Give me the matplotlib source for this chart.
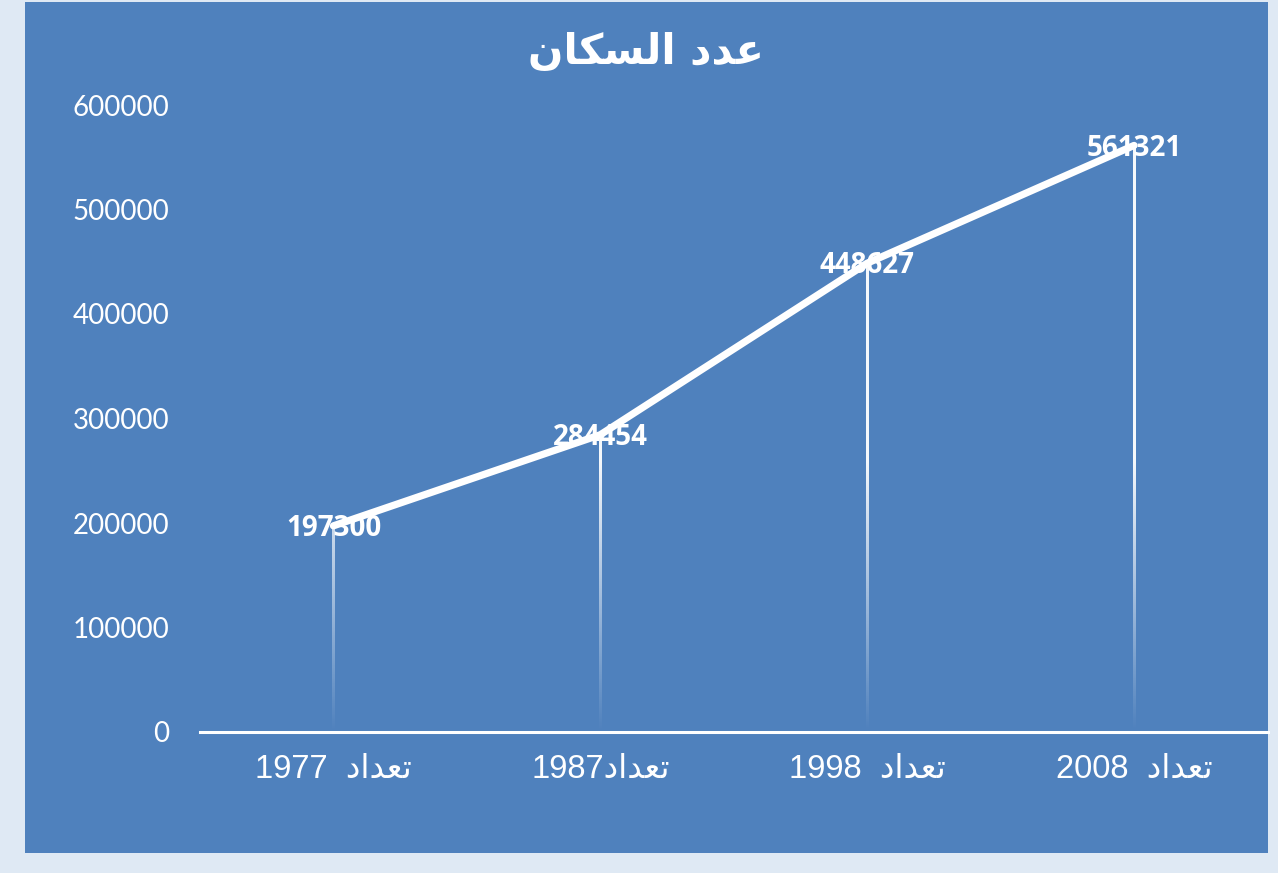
import matplotlib
matplotlib.use("Agg")
import matplotlib.pyplot as plt
from matplotlib.patches import Rectangle
import numpy as np

# Data
years = ["1977", "1987", "1998", "2008"]
population = [197300, 284454, 448627, 561321]
y_ticks = [0, 100000, 200000, 300000, 400000, 500000, 600000]

# Arabic text pre-shaped (presentation forms) in visual order
TAEDAD = "\uFEA9\uFE8D\uFEAA\uFECC\uFE97"            # تعداد
TITLE = "\uFEE5\uFE8E\uFEDC\uFEB4\uFEDF\uFE8D \uFEA9\uFEAA\uFECB"  # عدد السكان
cat_labels = [f"{years[0]}  {TAEDAD}", f"{years[1]}{TAEDAD}",
              f"{years[2]}  {TAEDAD}", f"{years[3]}  {TAEDAD}"]

BLUE = "#4f81bd"
W, H = 1278, 873
fig = plt.figure(figsize=(W / 100, H / 100), dpi=100, facecolor="#dfe9f4")

# blue chart panel
fig.patches.append(Rectangle((25 / W, 1 - 853 / H), (1268 - 25) / W, (853 - 2) / H,
                             transform=fig.transFigure, facecolor=BLUE,
                             edgecolor="none", zorder=-10))

ax = fig.add_axes([200 / W, 141 / H, 1067.5 / W, 627 / H])
ax.set_facecolor("none")
x = np.arange(len(years))

# drop lines fading towards the axis (vertical gradient strips)
for xi, v in zip(x, population):
    ys = np.linspace(0, v, 200)
    grad = np.ones((len(ys), 1, 4))
    grad[:, 0, 3] = np.clip(ys / 260000, 0, 1) * 0.95
    ax.imshow(grad, extent=[xi - 0.0055, xi + 0.0055, 0, v], origin="lower",
              aspect="auto", interpolation="bilinear", zorder=2)

ax.plot(x, population, color="white", lw=5.2, solid_capstyle="round", zorder=3)

for xi, v in zip(x, population):
    ax.annotate(str(v), (xi, v), xytext=(0, -2), textcoords="offset points",
                ha="center", va="center", color="white",
                fontsize=20, fontweight="bold", family="Open Sans", zorder=4)

ax.set_xlim(-0.5, len(years) - 0.5)
ax.set_ylim(0, 600000)
ax.set_yticks(y_ticks)
ax.set_yticklabels([str(t) for t in y_ticks], color="white", fontsize=20, family="Lato")
ax.set_xticks(x)
ax.set_xticklabels(cat_labels, color="white", fontsize=23.5,
                   family=["Liberation Sans", "DejaVu Sans"])
ax.tick_params(axis="y", length=0, pad=22)
ax.tick_params(axis="x", length=0, pad=16)

for s in ["top", "right", "left"]:
    ax.spines[s].set_visible(False)
ax.spines["bottom"].set_color("white")
ax.spines["bottom"].set_linewidth(2.2)

fig.text(646 / W, 1 - 52 / H, TITLE, ha="center", va="center", color="white",
         fontsize=30, fontweight="bold", family="DejaVu Sans")

fig.savefig("out.png", dpi=100, facecolor=fig.get_facecolor())
